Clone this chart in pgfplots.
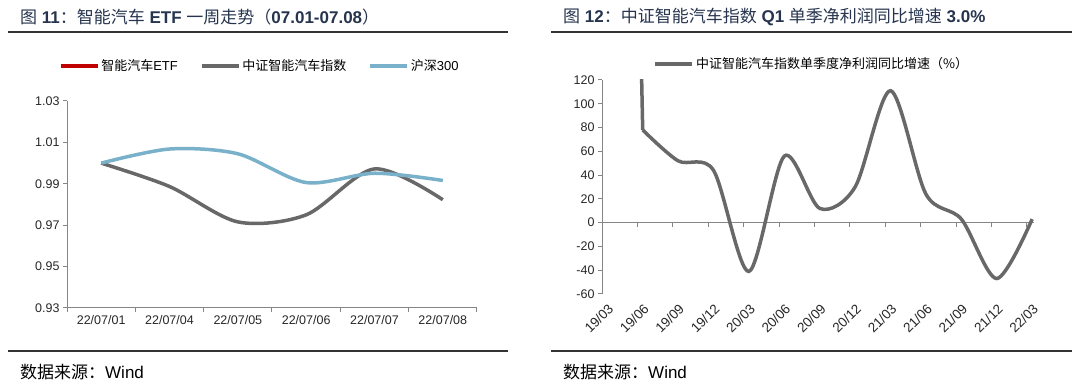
\documentclass[border=0pt]{standalone}
\usepackage{fontspec}
\setmainfont{Liberation Sans}
\newfontfamily\cjk{Noto Sans CJK SC}
\usepackage{pgfplots}
\pgfplotsset{compat=1.18}
\definecolor{ttl}{RGB}{38,52,78}
\definecolor{axgray}{RGB}{134,134,134}
\definecolor{lgray}{RGB}{104,104,104}
\definecolor{lblue}{RGB}{121,177,203}
\definecolor{dred}{RGB}{192,0,0}
\begin{document}
\begin{tikzpicture}
\useasboundingbox (0pt,0pt) rectangle (1080pt,382pt);
% titles
\node[anchor=west, text=ttl, font=\fontsize{17}{19}\selectfont, inner sep=0] at (20pt,365pt)
 {{\cjk 图} \textbf{11}{\cjk ：智能汽车} \textbf{ETF} {\cjk 一周走势（}\textbf{07.01-07.08}{\cjk ）}};
\node[anchor=west, text=ttl, font=\fontsize{17}{19}\selectfont, inner sep=0] at (563pt,365pt)
 {{\cjk 图} \textbf{12}{\cjk ：中证智能汽车指数} \textbf{Q1} {\cjk 单季净利润同比增速} \textbf{3.0\%}};
\draw[line width=1.5pt, black!80] (8pt,350pt) -- (508pt,350pt);
\draw[line width=1.5pt, black!80] (551pt,350pt) -- (1072pt,350pt);
\draw[line width=1.5pt, black!80] (8pt,31pt) -- (508pt,31pt);
\draw[line width=1.5pt, black!80] (551pt,31pt) -- (1072pt,31pt);
\node[anchor=west, font=\fontsize{17}{19}\selectfont, inner sep=0] at (20pt,10pt) {{\cjk 数据来源：}Wind};
\node[anchor=west, font=\fontsize{17}{19}\selectfont, inner sep=0] at (563pt,10pt) {{\cjk 数据来源：}Wind};

% left chart
\begin{axis}[at={(67pt,74pt)}, anchor=south west, scale only axis, width=410pt, height=207pt,
 xmin=-0.5, xmax=5.5, ymin=0.93, ymax=1.03,
 axis x line*=bottom, axis y line*=left, axis line style={axgray, line width=1pt},
 xtick={0,1,2,3,4,5}, xticklabels={22/07/01,22/07/04,22/07/05,22/07/06,22/07/07,22/07/08},
 major x tick style={draw=none},
 minor xtick={-0.5,0.5,1.5,2.5,3.5,4.5,5.5}, minor tick length=4pt,
 minor x tick style={axgray, line width=1pt},
 ytick={0.93,0.95,0.97,0.99,1.01,1.03},
 yticklabel style={/pgf/number format/.cd, fixed, fixed zerofill, precision=2},
 tick align=outside, major tick length=4pt, major y tick style={axgray, line width=1pt},
 /pgf/number format/assume math mode=true,
 tick label style={font=\fontsize{12.5}{14}\selectfont, text=black!85},
 legend style={at={(0.47,1.169)}, anchor=center, draw=none, fill=none, legend columns=3,
   font=\fontsize{13}{15}\selectfont, /tikz/every even column/.append style={column sep=20pt}},
 legend image code/.code={\draw[#1] (0pt,0pt) -- (37pt,0pt);},
 clip=false]
\addlegendimage{dred, line width=3.5pt}
\addlegendentry{{\cjk 智能汽车}ETF}
\addplot[lgray, line width=3.5pt, smooth] coordinates {
 (0,1.000) (1,0.9887) (2,0.9716) (3,0.9750) (4,0.9972) (5,0.9823)};
\addlegendentry{{\cjk 中证智能汽车指数}}
\addplot[lblue, line width=3.5pt, smooth] coordinates {
 (0,1.000) (1,1.0068) (2,1.0045) (3,0.9906) (4,0.9951) (5,0.9916)};
\addlegendentry{{\cjk 沪深}300}
\end{axis}

% right chart
\begin{axis}[at={(602pt,88pt)}, anchor=south west, scale only axis, width=431.9pt, height=214pt,
 xmin=0, xmax=12.2, ymin=-60, ymax=120,
 axis x line*=bottom, axis y line*=left, axis line style={axgray, line width=1pt},
 x axis line style={draw=none},
 xtick={0.15,1.15,2.15,3.15,4.15,5.15,6.15,7.15,8.15,9.15,10.15,11.15,12.15},
 xticklabels={19/03,19/06,19/09,19/12,20/03,20/06,20/09,20/12,21/03,21/06,21/09,21/12,22/03},
 major x tick style={draw=none},
 xticklabel style={rotate=45, anchor=north east, font=\fontsize{13.5}{15}\selectfont},
 ytick={-60,-40,-20,0,20,40,60,80,100,120},
 tick align=outside, major tick length=4pt, major y tick style={axgray, line width=1pt},
 /pgf/number format/assume math mode=true,
 tick label style={text=black!85},
 yticklabel style={font=\fontsize{12.5}{14}\selectfont},
 legend style={at={(0.486,1.075)}, anchor=center, draw=none, fill=none,
   font=\fontsize{13}{15}\selectfont},
 legend image code/.code={\draw[#1] (0pt,0pt) -- (37pt,0pt);}]
\draw[axgray, line width=1pt] (axis cs:0,0) -- (axis cs:12.2,0);
\pgfplotsinvokeforeach{1,...,12}{\draw[axgray, line width=1pt] (axis cs:#1,0) -- ([yshift=-4pt]axis cs:#1,0);}
\addplot[lgray, line width=3.5pt, sharp plot, forget plot] coordinates {(0.15,1500) (1.15,78)};
\addplot[lgray, line width=3.5pt, smooth] coordinates {
 (1.15,78) (2.15,52) (3.15,44) (4.15,-41) (5.15,56) (6.15,12) (7.15,30) (8.15,111)
 (9.15,24) (10.15,3) (11.15,-47) (12.15,3)};
\addlegendentry{{\cjk 中证智能汽车指数单季度净利润同比增速（\%）}}
\end{axis}
\end{tikzpicture}
\end{document}
